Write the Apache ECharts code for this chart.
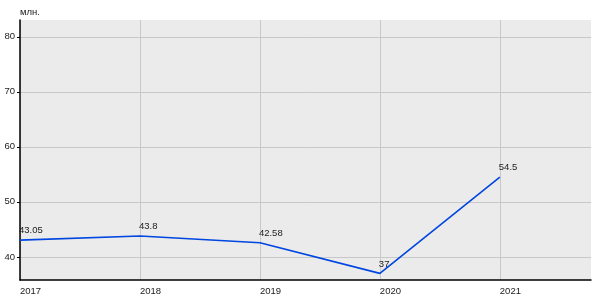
<!DOCTYPE html>
<html><head><meta charset="utf-8">
<script src="https://cdn.jsdelivr.net/npm/echarts@6/dist/echarts.min.js"></script>
<style>html,body{margin:0;padding:0;background:#fff}#c{width:600px;height:300px}</style>
</head><body><div id="c"></div>
<script>
const years = [2017, 2018, 2019, 2020, 2021];
const values = [43.05, 43.8, 42.58, 37, 54.5];
const yTicks = [40, 50, 60, 70, 80];
const unitLabel = 'млн.';

const chart = echarts.init(document.getElementById('c'), null, {renderer: 'canvas'});
const font = 'Liberation Sans, Arial, sans-serif';
const fs = 9.5;
chart.setOption({
  animation: false,
  grid: {left: 20, right: 9, top: 20, bottom: 20, show: true, backgroundColor: '#ebebeb', borderWidth: 0, outerBoundsMode: 'none', containLabel: false},
  xAxis: {
    type: 'value', min: 2017, max: 2021.76,
    axisLine: {show: true, onZero: false, lineStyle: {color: '#000', width: 1.5}},
    axisTick: {show: false, customValues: years},
    axisLabel: {fontFamily: font, fontSize: fs, color: '#222', align: 'left', margin: 6, customValues: years,
      formatter: v => String(v)},
    splitLine: {show: true, lineStyle: {color: '#c8c8c8', width: 1}}
  },
  yAxis: {
    type: 'value', min: 35.8, max: 83.05,
    name: unitLabel, nameLocation: 'end', nameGap: 3,
    nameTextStyle: {fontFamily: font, fontSize: fs, color: '#222', align: 'left'},
    axisLine: {show: true, lineStyle: {color: '#000', width: 1.5}},
    axisTick: {show: true, length: 3, lineStyle: {color: '#000'}, customValues: yTicks},
    axisLabel: {fontFamily: font, fontSize: fs, color: '#222', margin: 5, customValues: yTicks,
      formatter: v => String(v)},
    splitLine: {show: true, lineStyle: {color: '#c8c8c8', width: 1}}
  },
  series: [{
    type: 'line',
    data: years.map((y, i) => [y, values[i]]),
    symbol: 'circle', symbolSize: 1, showSymbol: true,
    itemStyle: {color: 'rgba(0,0,0,0)'},
    lineStyle: {color: '#0046e0', width: 1.6},
    label: {
      show: true, position: 'top', align: 'left', distance: 4, offset: [-1, 0],
      fontFamily: font, fontSize: fs, color: '#222',
      formatter: p => String(p.value[1])
    }
  }]
});
</script></body></html>
